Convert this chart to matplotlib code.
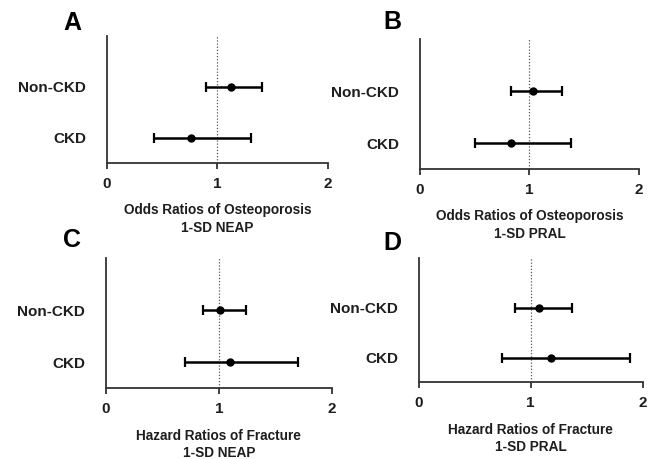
import matplotlib
matplotlib.use("Agg")
import matplotlib.pyplot as plt

plt.rcParams['font.family'] = ['Liberation Sans', 'DejaVu Sans']
plt.rcParams['font.weight'] = 'bold'
plt.rcParams['axes.labelweight'] = 'bold'

groups = ["CKD", "Non-CKD"]
panel_letters = ["A", "B", "C", "D"]
xlabels = ["Odds Ratios of Osteoporosis\n1-SD NEAP",
           "Odds Ratios of Osteoporosis\n1-SD PRAL",
           "Hazard Ratios of Fracture\n1-SD NEAP",
           "Hazard Ratios of Fracture\n1-SD PRAL"]

# estimates, lower and upper bounds, order: CKD, Non-CKD
est_A = [0.76, 1.12]
lo_A = [0.43, 0.90]
hi_A = [1.30, 1.40]

est_B = [0.83, 1.035]
lo_B = [0.50, 0.83]
hi_B = [1.38, 1.30]

est_C = [1.10, 1.01]
lo_C = [0.70, 0.86]
hi_C = [1.70, 1.24]

est_D = [1.18, 1.07]
lo_D = [0.74, 0.86]
hi_D = [1.89, 1.37]

panels = [(est_A, lo_A, hi_A), (est_B, lo_B, hi_B),
          (est_C, lo_C, hi_C), (est_D, lo_D, hi_D)]

# axes boxes in figure fractions [left, bottom, width, height]
boxes = [[0.1616, 0.6449, 0.3338, 0.2767],
         [0.6344, 0.6318, 0.3308, 0.2832],
         [0.1601, 0.1540, 0.3409, 0.2839],
         [0.6325, 0.1670, 0.3384, 0.2700]]
# panel letter centres in figure fractions
letter_xy = [(0.109, 0.950), (0.592, 0.952), (0.109, 0.477), (0.592, 0.471)]

txt = '#1e1e1e'
fig = plt.figure(figsize=(6.62, 4.59), dpi=100)

for i, (est, lo, hi) in enumerate(panels):
    ax = fig.add_axes(boxes[i])
    ypos = [1, 2]
    xerr = [[e - l for e, l in zip(est, lo)], [h - e for e, h in zip(est, hi)]]
    ax.axvline(1, color='#555555', lw=0.9, ls=(0, (1, 1.5)), zorder=1)
    ax.errorbar(est, ypos, xerr=xerr, fmt='o', color='black', ms=5,
                elinewidth=1.8, capsize=3.5, capthick=1.6, zorder=3)
    ax.set_xlim(0, 2)
    ax.set_ylim(0.5, 3)
    ax.set_xticks([0, 1, 2])
    ax.set_yticks(ypos)
    ax.set_yticklabels(groups)
    for s in ['top', 'right']:
        ax.spines[s].set_visible(False)
    for s in ['left', 'bottom']:
        ax.spines[s].set_color('#333333')
        ax.spines[s].set_linewidth(1.3)
    ax.tick_params(axis='x', direction='out', length=4, width=1.3, color='#333333',
                   labelsize=11, labelcolor=txt, pad=6)
    ax.tick_params(axis='y', length=0, labelsize=11, labelcolor=txt, pad=15)
    ax.set_xlabel(xlabels[i], fontsize=9.8, color=txt, labelpad=9, linespacing=1.3)
    fig.text(letter_xy[i][0], letter_xy[i][1], panel_letters[i], fontsize=18,
             fontweight='bold', color='black', ha='center', va='center')

fig.savefig("out.png", dpi=100)
